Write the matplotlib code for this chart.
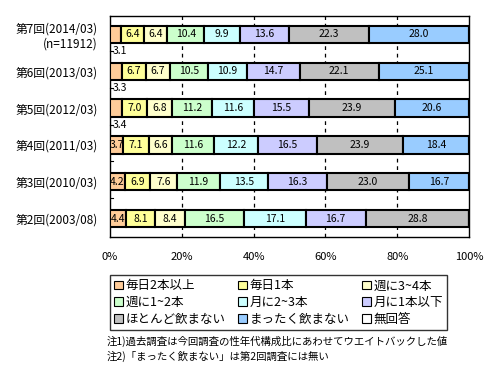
import numpy as np
import matplotlib.pyplot as plt
from matplotlib.patches import Patch

plt.rcParams['font.family'] = ['Noto Sans CJK JP', 'DejaVu Sans']

rows = ['第7回(2014/03)\n(n=11912)', '第6回(2013/03)', '第5回(2012/03)',
        '第4回(2011/03)', '第3回(2010/03)', '第2回(2003/08)']
cats = ['毎日2本以上', '毎日1本', '週に3~4本', '週に1~2本', '月に2~3本',
        '月に1本以下', 'ほとんど飲まない', 'まったく飲まない', '無回答']
colors = ['#FFCC99', '#FFFF99', '#FFFFCC', '#CCFFCC', '#CCFFFF',
          '#CCCCFF', '#C0C0C0', '#99CCFF', '#FFFFFF']

daily2 = [3.1, 3.3, 3.4, 3.7, 4.2, 4.4]
daily1 = [6.4, 6.7, 7.0, 7.1, 6.9, 8.1]
week34 = [6.4, 6.7, 6.8, 6.6, 7.6, 8.4]
week12 = [10.4, 10.5, 11.2, 11.6, 11.9, 16.5]
month23 = [9.9, 10.9, 11.6, 12.2, 13.5, 17.1]
month1 = [13.6, 14.7, 15.5, 16.5, 16.3, 16.7]
hardly = [22.3, 22.1, 23.9, 23.9, 23.0, 28.8]
never = [28.0, 25.1, 20.6, 18.4, 16.7, 0.0]
noans = [0.0, 0.0, 0.0, 0.0, 0.0, 0.0]

series = [daily2, daily1, week34, week12, month23, month1, hardly, never, noans]

fig = plt.figure(figsize=(4.96, 3.78), dpi=100)
ax = fig.add_axes([110 / 496, 1 - 237 / 378, 359 / 496, 221 / 378])

y = np.arange(len(rows))
left = np.zeros(len(rows))
for vals, c in zip(series, colors):
    vals = np.array(vals)
    ax.barh(y, vals, left=left, height=0.47, color=c, edgecolor='black',
            linewidth=1.5, zorder=3)
    for i, v in enumerate(vals):
        if v >= 3.5:
            ax.text(left[i] + v / 2, y[i], f'{v:.1f}', ha='center', va='center',
                    fontsize=7.5, zorder=4)
        elif v > 0:
            ax.plot([0, 0.8], [y[i] + 0.45, y[i] + 0.45], color='black', lw=0.8,
                    zorder=4, clip_on=False)
            ax.text(0.8, y[i] + 0.45, f'{v:.1f}', ha='left', va='center',
                    fontsize=7.5, zorder=4)
    left += vals

# small leader ticks under rows 4 and 3
for i in [3, 4]:
    ax.plot([0, 0.8], [y[i] + 0.45, y[i] + 0.45], color='black', lw=0.8, zorder=4)

ax.set_xlim(0, 100)
ax.set_ylim(len(rows) - 0.5, -0.5)
ax.set_yticks(y)
ax.set_yticklabels(rows, fontsize=8.5)
ax.set_xticks([0, 20, 40, 60, 80, 100])
ax.set_xticklabels(['0%', '20%', '40%', '60%', '80%', '100%'], fontsize=8)
ax.tick_params(axis='y', length=0, pad=9)
ax.tick_params(axis='x', length=0, pad=11)
for x in [20, 40, 60, 80]:
    ax.axvline(x, color='black', lw=0.9, ls=(0, (3, 3)), zorder=1)
for s in ax.spines.values():
    s.set_linewidth(1.0)

# legend fills column by column, so reorder to read row by row
order = [0, 3, 6, 1, 4, 7, 2, 5, 8]
handles = [Patch(facecolor=colors[k], edgecolor='black', linewidth=0.8) for k in order]
labels = [cats[k] for k in order]
leg = fig.legend(handles, labels, loc='upper left',
                 bbox_to_anchor=(110 / 496, 1 - 275 / 378), ncol=3,
                 fontsize=9, frameon=True, fancybox=False, edgecolor='black',
                 handlelength=0.7, handleheight=0.7, handletextpad=0.2,
                 columnspacing=1.0, borderpad=0.35, labelspacing=0.3,
                 borderaxespad=0)
leg.get_frame().set_linewidth(1.0)

fig.text(107 / 496, 1 - 341 / 378, '注1)過去調査は今回調査の性年代構成比にあわせてウエイトバックした値',
         fontsize=7.5, va='center')
fig.text(107 / 496, 1 - 356 / 378, '注2)「まったく飲まない」は第2回調査には無い',
         fontsize=7.5, va='center')

fig.savefig('out.png', dpi=100)
